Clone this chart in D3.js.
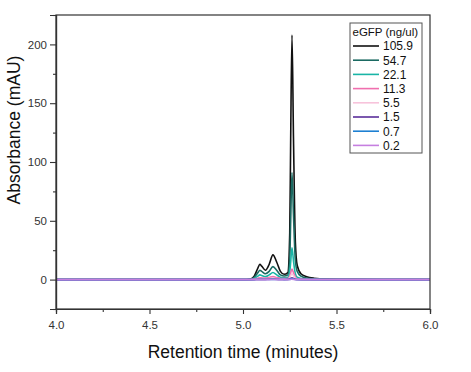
<!DOCTYPE html>
<html><head><meta charset="utf-8">
<script src="https://cdn.jsdelivr.net/npm/d3@7"></script>
<style>body{margin:0;background:#fff}svg{display:block}</style>
</head><body>
<script>
const times = [4.0, 4.5, 5.0, 5.04, 5.06, 5.08, 5.09, 5.10, 5.12, 5.14, 5.16, 5.18, 5.20, 5.22, 5.24, 5.25, 5.255, 5.262, 5.27, 5.28, 5.29, 5.31, 5.34, 5.38, 5.45, 5.6, 6.0];
const conc = ["105.9", "54.7", "22.1", "11.3", "5.5", "1.5", "0.7", "0.2"];
const colors = ["#111111", "#1b6a62", "#19b5a6", "#f06fae", "#f7c3db", "#5a2f9a", "#1e80d2", "#c67fe0"];
const s105_9 = [0, 0, 0, 0.5, 3, 10, 13, 11.5, 8, 13, 21, 15, 7, 4.5, 6, 40, 120, 208, 120, 32, 12, 5, 2.5, 1.2, 0.5, 0.2, 0];
const s54_7  = [0, 0, 0, 0.3, 2, 6, 8, 7, 5, 7, 11, 8, 4, 3, 4, 18, 50, 91, 55, 16, 7, 3, 1.4, 0.6, 0.3, 0.1, 0];
const s22_1  = [0, 0, 0, 0.1, 1, 3, 4, 3.5, 2.5, 4, 6, 4, 2, 1.5, 2, 7, 15, 27, 16, 5, 2, 1, 0.5, 0.2, 0.1, 0, 0];
const s11_3  = [0, 0, 0, 0, 0.4, 1.2, 1.5, 1.4, 1.2, 1.8, 2.5, 1.8, 1, 0.8, 1, 3, 6, 9, 6, 2, 0.8, 0.4, 0.2, 0.1, 0, 0, 0];
const s5_5   = [0, 0, 0, 0, 0.2, 0.6, 0.8, 0.7, 0.6, 0.9, 1.2, 0.9, 0.5, 0.4, 0.5, 1.6, 3.5, 5, 3.4, 1.1, 0.4, 0.2, 0.1, 0, 0, 0, 0];
const s1_5   = [0, 0, 0, 0, 0, 0.2, 0.2, 0.2, 0.2, 0.3, 0.3, 0.3, 0.1, 0.1, 0.2, 0.5, 1, 1.5, 1, 0.3, 0.1, 0, 0, 0, 0, 0, 0];
const s0_7   = [0, 0, 0, 0, 0, 0.1, 0.1, 0.1, 0.1, 0.1, 0.2, 0.1, 0.1, 0, 0.1, 0.2, 0.5, 0.7, 0.5, 0.1, 0, 0, 0, 0, 0, 0, 0];
const s0_2   = [0, 0, 0, 0, 0, 0, 0, 0, 0, 0, 0.1, 0, 0, 0, 0, 0.1, 0.2, 0.3, 0.2, 0, 0, 0, 0, 0, 0, 0, 0];
const seriesValues = [s105_9, s54_7, s22_1, s11_3, s5_5, s1_5, s0_7, s0_2];
const xTicks = [4.0, 4.5, 5.0, 5.5, 6.0];
const yTicks = [0, 50, 100, 150, 200];

const W = 471, H = 372;
const L = 56, R = 430, T = 15, B = 309;
const svg = d3.select("body").append("svg").attr("width", W).attr("height", H)
  .style("font-family", "'Liberation Sans', Arial, sans-serif");

const x = d3.scaleLinear().domain([4, 6]).range([L, R]);
const y = d3.scaleLinear().domain([-25, 225]).range([B, T]);

const line = d3.line().x(d => x(d[0])).y(d => y(d[1])).curve(d3.curveMonotoneX);

const clip = svg.append("clipPath").attr("id", "c").append("rect")
  .attr("x", L).attr("y", T).attr("width", R - L).attr("height", B - T);
const g = svg.append("g").attr("clip-path", "url(#c)");
seriesValues.forEach((vals, i) => {
  g.append("path").datum(times.map((t, j) => [t, vals[j]]))
    .attr("d", line).attr("fill", "none").attr("stroke", colors[i])
    .attr("stroke-width", 1.6).attr("stroke-linejoin", "round");
});

// frame
svg.append("rect").attr("x", L).attr("y", T).attr("width", R - L).attr("height", B - T)
  .attr("fill", "none").attr("stroke", "#333").attr("stroke-width", 1.2);

// axes
const xAxis = svg.append("g").attr("transform", `translate(0,${B})`)
  .call(d3.axisBottom(x).tickValues(xTicks).tickFormat(d3.format(".1f")).tickSize(5).tickPadding(7));
const xMinor = svg.append("g").attr("transform", `translate(0,${B})`)
  .call(d3.axisBottom(x).tickValues([4.25, 4.75, 5.25, 5.75]).tickFormat("").tickSize(3));
const yAxis = svg.append("g").attr("transform", `translate(${L},0)`)
  .call(d3.axisLeft(y).tickValues(yTicks).tickSize(6).tickPadding(3));
const yMinor = svg.append("g").attr("transform", `translate(${L},0)`)
  .call(d3.axisLeft(y).tickValues([-25, 25, 75, 125, 175, 225]).tickFormat("").tickSize(3));
[xAxis, xMinor, yAxis, yMinor].forEach(a => {
  a.select(".domain").attr("stroke", "#333").attr("stroke-width", 1.2);
  a.selectAll(".tick line").attr("stroke", "#333").attr("stroke-width", 1.1);
  a.selectAll("text").attr("fill", "#333").style("font-size", "11.5px")
    .style("font-family", "'Liberation Sans', Arial, sans-serif");
});

// axis titles
svg.append("text").attr("x", (L + R) / 2).attr("y", 358).attr("text-anchor", "middle")
  .style("font-size", "17.5px").attr("fill", "#111").text("Retention time (minutes)");
svg.append("text").attr("transform", "translate(20,130) rotate(-90)").attr("text-anchor", "middle")
  .style("font-size", "17.5px").attr("fill", "#111").text("Absorbance (mAU)");

// legend
const lg = svg.append("g");
lg.append("rect").attr("x", 350).attr("y", 23).attr("width", 72).attr("height", 130)
  .attr("fill", "#fff").attr("stroke", "#555").attr("stroke-width", 1);
lg.append("text").attr("x", 352.5).attr("y", 36).style("font-size", "11.5px").attr("fill", "#111")
  .text("eGFP (ng/ul)");
conc.forEach((c, i) => {
  const yy = 46 + i * 14.2;
  lg.append("line").attr("x1", 353).attr("x2", 379).attr("y1", yy).attr("y2", yy)
    .attr("stroke", colors[i]).attr("stroke-width", 1.6);
  lg.append("text").attr("x", 383).attr("y", yy + 4.3).style("font-size", "12px")
    .attr("fill", "#111").text(c);
});
</script>
</body></html>
